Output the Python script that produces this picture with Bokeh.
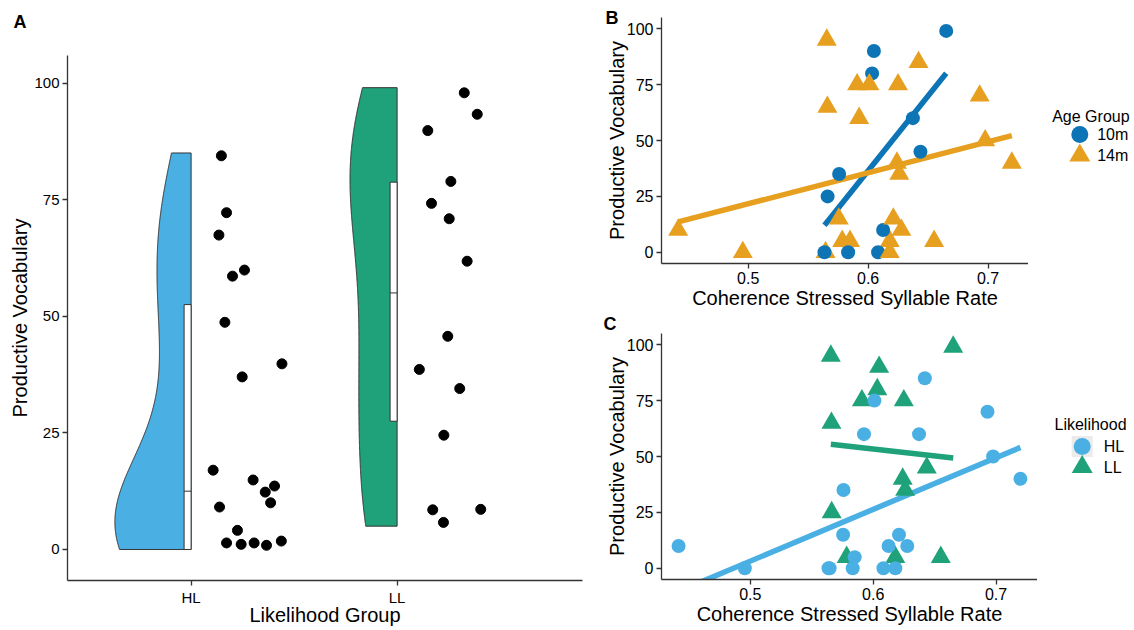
import numpy as np
from bokeh.plotting import figure
from bokeh.models import Range1d, FixedTicker, ColumnDataSource, LinearAxis
from bokeh.layouts import row, column
from bokeh.transform import factor_cmap, factor_mark
from bokeh.embed import file_html
from bokeh.resources import INLINE
from bokeh.core.properties import value

# ---------------- data ----------------
likelihood_groups = ["HL", "LL"]
age_groups = ["10m", "14m"]
y_ticks = [0, 25, 50, 75, 100]
rate_ticks = [0.5, 0.6, 0.7]

rate = [0.5655, 0.6048, 0.6033, 0.5908, 0.5660, 0.5662, 0.5784, 0.6180, 0.6240, 0.6260,
        0.6249, 0.6651, 0.6436, 0.6550,
        0.4416, 0.4955, 0.5645, 0.5636, 0.5758, 0.5755, 0.5849, 0.5833, 0.5925, 0.6010,
        0.6083, 0.6125, 0.6180, 0.6210, 0.6277, 0.6373, 0.6420, 0.6930, 0.6976, 0.7198]
vocab = [95, 90, 80, 75, 65, 25, 5, 5, 40, 35,
         75, 99, 45, 5,
         10, 0, 0, 0, 35, 15, 5, 0, 60, 75,
         0, 10, 0, 15, 10, 60, 85, 70, 50, 40]
age = ["14m", "10m", "10m", "14m", "14m", "10m", "14m", "14m", "14m", "14m",
       "14m", "10m", "10m", "14m",
       "14m", "14m", "14m", "10m", "10m", "14m", "14m", "10m", "14m", "14m",
       "10m", "10m", "14m", "14m", "14m", "10m", "14m", "14m", "14m", "14m"]
likelihood = ["LL"] * 14 + ["HL"] * 20

# Panel A: jittered dot positions as plotted (group units / vocabulary)
hl_dot_x = [1.147, 1.172, 1.135, 1.259, 1.201, 1.164, 1.441, 1.248, 1.107, 1.301,
            1.405, 1.360, 1.386, 1.138, 1.225, 1.172, 1.243, 1.306, 1.366, 1.438]
hl_dot_y = [84.4, 72.2, 67.4, 59.9, 58.6, 48.7, 39.8, 37.0, 17.0, 14.9,
            13.6, 12.3, 10.0, 9.1, 4.1, 1.4, 1.1, 1.4, 0.9, 1.8]
ll_dot_x = [2.326, 2.389, 2.149, 2.261, 2.167, 2.253, 2.340, 2.246, 2.108, 2.304,
            2.227, 2.173, 2.406, 2.225]
ll_dot_y = [97.9, 93.3, 89.8, 78.9, 74.2, 70.9, 61.8, 45.7, 38.6, 34.5,
            24.5, 8.5, 8.6, 5.8]

# ---------------- styles ----------------
FONT = "Liberation Sans"
AX = "#333333"
SKY, GREEN = "#4AB0E4", "#1FA27A"
BLUE, ORANGE = "#0D75B5", "#E69F1E"
lik_colors = [SKY, GREEN]
age_colors = [BLUE, ORANGE]
COMMON = dict(output_backend="svg", toolbar_location=None, frame_align=False)


def style(p, tick_size="16px", title_size="20px"):
    p.outline_line_color = None
    p.xgrid.visible = False
    p.ygrid.visible = False
    p.background_fill_color = "white"
    p.border_fill_color = "white"
    for ax in p.axis:
        ax.axis_line_color = AX
        ax.axis_line_width = 1.3
        ax.major_tick_line_color = AX
        ax.major_tick_line_width = 1.3
        ax.major_tick_out = 5
        ax.major_tick_in = 0
        ax.minor_tick_line_color = None
        ax.major_label_text_font = FONT
        ax.major_label_text_font_size = tick_size
        ax.major_label_text_color = "black"
        ax.axis_label_text_font = FONT
        ax.axis_label_text_font_size = title_size
        ax.axis_label_text_font_style = "normal"
        ax.axis_label_text_color = "black"
        ax.major_label_standoff = 3
        ax.axis_label_standoff = 0


def blank_fig(width, height):
    p = figure(width=width, height=height, x_range=Range1d(0, width), y_range=Range1d(height, 0),
               x_axis_type=None, y_axis_type=None, min_border=0, **COMMON)
    p.outline_line_color = None
    p.background_fill_color = "white"
    p.border_fill_color = "white"
    return p


def text_strip(width, height, text, tx, ty):
    p = blank_fig(width, height)
    p.text(x=[tx], y=[ty], text=[text], text_font=value(FONT), text_font_style="bold",
           text_font_size="18px", text_baseline="middle", text_color="black")
    return p


vocab_arr = np.array(vocab, float)
rate_arr = np.array(rate, float)
lik_arr = np.array(likelihood)
age_arr = np.array(age)

# ---------------- Panel A ----------------
pA = figure(width=597, height=584, x_range=Range1d(0.4, 2.9), y_range=Range1d(-6.65, 105.9),
            min_border_left=67, min_border_right=15, min_border_top=11, min_border_bottom=48,
            x_axis_label="Likelihood Group", y_axis_label="Productive Vocabulary", **COMMON)
style(pA, tick_size="15px", title_size="20px")
pA.xaxis.axis_label_standoff = -5
pA.yaxis.ticker = FixedTicker(ticks=y_ticks)
pA.xaxis.ticker = FixedTicker(ticks=list(range(1, len(likelihood_groups) + 1)))
pA.xaxis.major_label_overrides = {i + 1: g for i, g in enumerate(likelihood_groups)}


def kde(vals, grid):
    n = len(vals)
    sd = vals.std(ddof=1)
    q75, q25 = np.percentile(vals, [75, 25])
    bw = 0.9 * min(sd, (q75 - q25) / 1.34) * n ** -0.2
    z = (grid[:, None] - vals[None, :]) / bw
    return np.exp(-0.5 * z ** 2).sum(1) / (n * bw * np.sqrt(2 * np.pi))


dens = {}
for g in likelihood_groups:
    vals = vocab_arr[lik_arr == g]
    grid = np.linspace(vals.min(), vals.max(), 512)
    dens[g] = (grid, kde(vals, grid))
dmax = max(d.max() for _, d in dens.values())
HALF = 0.37
BOXW = 0.034
for i, g in enumerate(likelihood_groups):
    xc = i + 1
    grid, d = dens[g]
    xs = np.concatenate([xc - d / dmax * HALF, [xc, xc]])
    ys = np.concatenate([grid, [grid[-1], grid[0]]])
    pA.patch(xs, ys, fill_color=lik_colors[i], line_color=AX, line_width=1)
    vals = vocab_arr[lik_arr == g]
    q1, med, q3 = np.percentile(vals, [25, 50, 75])
    pA.quad(left=[xc - BOXW], right=[xc], bottom=[q1], top=[q3],
            fill_color="white", line_color=AX, line_width=1)
    pA.segment(x0=[xc - BOXW], x1=[xc], y0=[med], y1=[med], line_color=AX, line_width=1)

pA.scatter(hl_dot_x + ll_dot_x, hl_dot_y + ll_dot_y, size=10, color="black")
stripA = text_strip(597, 44, "A", 13, 21)

# ---------------- Panels B & C ----------------
pad = 0.05 * (rate_arr.max() - rate_arr.min())
xr = (rate_arr.min() - pad, rate_arr.max() + pad)

src = ColumnDataSource(dict(
    rate=rate, vocab=vocab, age=age, likelihood=likelihood,
    size_b=[14 if a == age_groups[0] else 20 for a in age],
    size_c=[14 if l == likelihood_groups[0] else 20 for l in likelihood],
))


def scatter_panel(width, height, top, bottom, group_col, groups, colors, size_col):
    p = figure(width=width, height=height, x_range=Range1d(*xr), y_range=Range1d(-5, 105),
               min_border_left=64, min_border_right=0, min_border_top=top, min_border_bottom=bottom,
               x_axis_label="Coherence Stressed Syllable Rate", y_axis_label="Productive Vocabulary",
               **COMMON)
    style(p)
    p.yaxis.axis_label_standoff = -4
    p.yaxis.ticker = FixedTicker(ticks=y_ticks)
    p.xaxis.ticker = FixedTicker(ticks=rate_ticks)
    garr = age_arr if group_col == "age" else lik_arr
    for g, c in zip(groups, colors):
        m = garr == g
        k, b = np.polyfit(rate_arr[m], vocab_arr[m], 1)
        xs = np.array([rate_arr[m].min(), rate_arr[m].max()])
        p.line(xs, k * xs + b, line_color=c, line_width=5.5)
    p.scatter("rate", "vocab", source=src, size=size_col,
              marker=factor_mark(group_col, ["circle", "triangle"], groups),
              fill_color=factor_cmap(group_col, colors, groups), line_color=None)
    return p


pB = scatter_panel(431, 312, 17, 49, "age", age_groups, age_colors, "size_b")
letterB = LinearAxis(ticker=FixedTicker(ticks=[105]), major_label_overrides={105: "B"},
                     axis_line_color=None, major_tick_line_color=None, minor_tick_line_color=None,
                     major_tick_out=0, major_tick_in=0, major_label_standoff=-16,
                     major_label_text_font=FONT, major_label_text_font_style="bold",
                     major_label_text_font_size="18px", major_label_text_color="black")
pB.add_layout(letterB, "left")

stripC = text_strip(537, 21, "C", 6, 11)
pC = scatter_panel(440, 295, 0, 49, "likelihood", likelihood_groups, lik_colors, "size_c")


def legend_fig(width, height, title, tx, ty, groups, colors, kx, ky0, kstep, lx, ksizes, grey_first):
    p = blank_fig(width, height)
    p.text(x=[tx], y=[ty], text=[title], text_font=value(FONT), text_font_size="16px",
           text_baseline="middle", text_color="black")
    for i, (g, c) in enumerate(zip(groups, colors)):
        ky = ky0 + i * kstep
        if grey_first and i == 0:
            p.rect(x=[kx], y=[ky], width=21, height=21, fill_color="#EBEBEB", line_color=None)
        p.scatter(x=[kx], y=[ky], marker=["circle", "triangle"][i], size=ksizes[i],
                  fill_color=c, line_color=None)
        p.text(x=[lx], y=[ky], text=[g], text_font=value(FONT), text_font_size="16px",
               text_baseline="middle", text_color="black")
    return p


legB = legend_fig(106, 312, "Age Group", 23.7, 115.5, age_groups, age_colors,
                  51.3, 134, 21, 68.7, [17, 21], False)
legC = legend_fig(97, 295, "Likelihood", 17, 91, likelihood_groups, lik_colors,
                  44.7, 113, 20.5, 66.3, [17, 21], True)

layout = row(column(stripA, pA), column(row(pB, legB), stripC, row(pC, legC)))
open("out.html", "w").write(file_html(layout, INLINE))
